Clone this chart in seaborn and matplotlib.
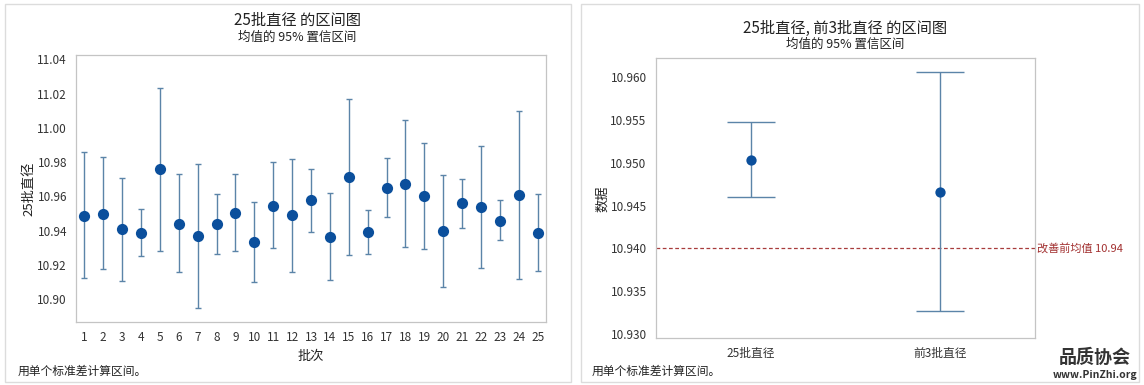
import matplotlib
matplotlib.use("Agg")
import matplotlib.pyplot as plt
import seaborn as sns
import pandas as pd
from matplotlib.patches import Rectangle

# left chart: 25 batches, mean and 95% CI
batches = list(range(1, 26))
batch_mean = [10.9488, 10.9500, 10.9408, 10.9389, 10.9758, 10.9441, 10.9369, 10.9439, 10.9505, 10.9334,
              10.9546, 10.9490, 10.9578, 10.9362, 10.9715, 10.9393, 10.9651, 10.9674, 10.9601, 10.9398,
              10.9560, 10.9540, 10.9459, 10.9609, 10.9389]
batch_lo = [10.9123, 10.9175, 10.9109, 10.9253, 10.9284, 10.9158, 10.8947, 10.9263, 10.9280, 10.9099,
            10.9297, 10.9158, 10.9391, 10.9113, 10.9258, 10.9263, 10.9478, 10.9307, 10.9292, 10.9070,
            10.9416, 10.9181, 10.9344, 10.9117, 10.9163]
batch_hi = [10.9858, 10.9829, 10.9710, 10.9527, 11.0231, 10.9729, 10.9788, 10.9616, 10.9729, 10.9569,
            10.9799, 10.9820, 10.9762, 10.9618, 11.0167, 10.9523, 10.9823, 11.0044, 10.9910, 10.9723,
            10.9700, 10.9893, 10.9578, 11.0097, 10.9613]
left_yticks = [10.90, 10.92, 10.94, 10.96, 10.98, 11.00, 11.02, 11.04]

# right chart: two groups
groups = ["25批直径", "前3批直径"]
group_mean = [10.9503, 10.9466]
group_lo = [10.9460, 10.9327]
group_hi = [10.9548, 10.9606]
ref_value = 10.94
right_yticks = [10.930, 10.935, 10.940, 10.945, 10.950, 10.955, 10.960]

sns.set_style("white")
plt.rcParams["font.family"] = ["Noto Sans CJK SC", "DejaVu Sans"]

fig = plt.figure(figsize=(11.44, 3.85), dpi=100)
W, H = 1144, 385

def fx(x):
    return x / W

def fy(y):
    return 1 - y / H

# panel borders
for x0, x1 in [(5, 571), (581, 1139)]:
    fig.patches.append(Rectangle((fx(x0), fy(382)), fx(x1 - x0), (382 - 4) / H,
                                 transform=fig.transFigure, fill=False,
                                 edgecolor="#dcdcdc", linewidth=1))

dot = "#0b4f9c"
bar = "#5b84a8"
spine = "#c4c4c4"

def style_axes(ax):
    for s in ax.spines.values():
        s.set_color(spine)
        s.set_linewidth(0.9)
    ax.tick_params(axis="both", length=3, width=0.7, color="#999999",
                   labelsize=8.5, labelcolor="#333333", direction="out")

# ---- left chart
ax1 = fig.add_axes([fx(76), fy(322), fx(546 - 76), (322 - 55) / H])
df1 = pd.DataFrame({"批次": batches, "均值": batch_mean, "lo": batch_lo, "hi": batch_hi})
ax1.errorbar(df1["批次"], df1["均值"],
             yerr=[df1["均值"] - df1["lo"], df1["hi"] - df1["均值"]],
             fmt="none", ecolor=bar, elinewidth=1, capsize=2.5, capthick=1, zorder=1)
sns.scatterplot(data=df1, x="批次", y="均值", ax=ax1, color=dot, s=65,
                edgecolor=dot, linewidth=0, zorder=3)
ax1.set_xlim(0.56, 25.44)
ax1.set_ylim(10.8868, 11.0425)
ax1.set_xticks(batches)
ax1.set_yticks(left_yticks)
ax1.set_yticklabels([f"{v:.2f}" for v in left_yticks])
ax1.set_xlabel("批次", fontsize=9.5, color="#222222", labelpad=4)
ax1.set_ylabel("25批直径", fontsize=9.5, color="#222222", labelpad=1)
style_axes(ax1)

fig.text(fx(297), fy(20), "25批直径 的区间图", ha="center", va="center", fontsize=11, color="#222222")
fig.text(fx(297), fy(37), "均值的 95% 置信区间", ha="center", va="center", fontsize=9, color="#222222")
fig.text(fx(18), fy(371), "用单个标准差计算区间。", ha="left", va="center", fontsize=8.5, color="#222222")

# ---- right chart
ax2 = fig.add_axes([fx(655.7), fy(338.3), fx(1035 - 655.7), (338.3 - 58.3) / H])
df2 = pd.DataFrame({"组": groups, "均值": group_mean, "lo": group_lo, "hi": group_hi})
ax2.errorbar(df2["组"], df2["均值"],
             yerr=[df2["均值"] - df2["lo"], df2["hi"] - df2["均值"]],
             fmt="none", ecolor=bar, elinewidth=1, capsize=17, capthick=1, zorder=1)
sns.scatterplot(data=df2, x="组", y="均值", ax=ax2, color=dot, s=55,
                edgecolor=dot, linewidth=0, zorder=3)
ax2.axhline(ref_value, color="#a83c3c", linestyle=(0, (3, 2)), linewidth=0.9, zorder=0)
ax2.text(1.005, ref_value, f"改善前均值 {ref_value:.2f}", transform=ax2.get_yaxis_transform(),
         ha="left", va="center", fontsize=8, color="#a23030")
ax2.set_xlim(-0.5, 1.5)
ax2.set_ylim(10.9295, 10.9622)
ax2.set_yticks(right_yticks)
ax2.set_yticklabels([f"{v:.3f}" for v in right_yticks])
ax2.set_xlabel("")
ax2.set_ylabel("数据", fontsize=9.5, color="#222222", labelpad=1)
style_axes(ax2)

fig.text(fx(845), fy(28), "25批直径, 前3批直径 的区间图", ha="center", va="center", fontsize=11, color="#222222")
fig.text(fx(845), fy(44), "均值的 95% 置信区间", ha="center", va="center", fontsize=9, color="#222222")
fig.text(fx(592), fy(371), "用单个标准差计算区间。", ha="left", va="center", fontsize=8.5, color="#222222")

# watermark
fig.text(fx(1095), fy(357), "品质协会", ha="center", va="center", fontsize=13, fontweight="bold", color="#333333")
fig.text(fx(1095), fy(375), "www.PinZhi.org", ha="center", va="center", fontsize=7.5, fontweight="bold", color="#333333")

fig.savefig("out.png", dpi=100)
